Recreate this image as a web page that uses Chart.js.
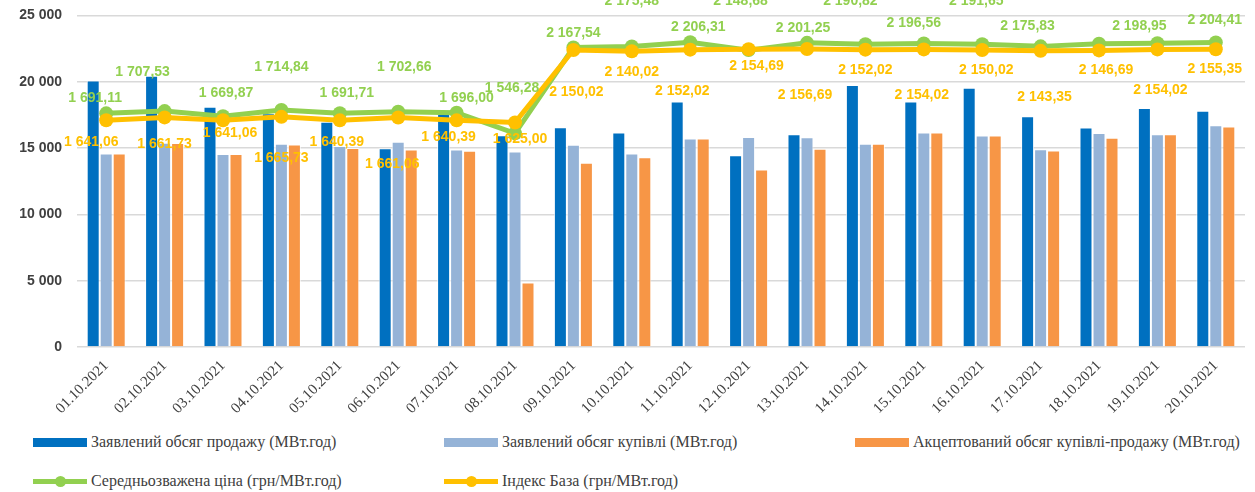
<!DOCTYPE html>
<html lang="uk">
<head>
<meta charset="utf-8">
<title>Обсяги та ціни</title>
<script src="https://cdn.jsdelivr.net/npm/chart.js@4"></script>
<style>
  html, body { margin: 0; padding: 0; background: #fff; overflow: hidden; }
  #wrap { position: relative; width: 1255px; height: 492px; overflow: hidden; }
  #box { position: absolute; left: 0; top: -8px; width: 1255px; height: 433px; }
  .leg { position: absolute; font-family: "Liberation Serif", "Tinos", "DejaVu Serif", serif; font-size: 16px; color: #404040; white-space: nowrap; display: flex; align-items: center; height: 20px; }
  .sw { display: inline-block; width: 54px; height: 9px; margin-right: 4px; position: relative; }
  .sw.line { height: 5px; }
  .sw.line i { position: absolute; left: 22px; top: -3px; width: 11px; height: 11px; border-radius: 50%; }
</style>
</head>
<body>
<div id="wrap">
  <div id="box"><canvas id="chart"></canvas></div>
  <div id="legend"></div>
</div>
<script>
// ===============================
// Дані
// ===============================
const dates = ["01.10.2021", "02.10.2021", "03.10.2021", "04.10.2021", "05.10.2021",
  "06.10.2021", "07.10.2021", "08.10.2021", "09.10.2021", "10.10.2021",
  "11.10.2021", "12.10.2021", "13.10.2021", "14.10.2021", "15.10.2021",
  "16.10.2021", "17.10.2021", "18.10.2021", "19.10.2021", "20.10.2021"];

const saleVolume = [20100, 20450, 18120, 17620, 16990, 14990, 17570, 15960, 16570, 16170,
  18500, 14460, 16040, 19750, 18500, 19550, 17390, 16540, 18020, 17820];
const buyVolume = [14590, 15390, 14560, 15320, 15160, 15470, 14890, 14740, 15240, 14590,
  15710, 15840, 15810, 15320, 16170, 15940, 14910, 16140, 16040, 16720];
const acceptedVolume = [14590, 15380, 14560, 15260, 15010, 14890, 14790, 4860, 13890, 14310,
  15710, 13380, 14940, 15320, 16170, 15940, 14810, 15770, 16040, 16620];
const avgPrice = [1691.11, 1707.53, 1669.87, 1714.84, 1691.71, 1702.66, 1696.00, 1546.28, 2167.54, 2175.48,
  2206.31, 2148.68, 2201.25, 2190.82, 2196.56, 2191.65, 2175.83, 2195.00, 2198.95, 2204.41];
const baseIndex = [1641.06, 1661.73, 1641.06, 1665.73, 1640.39, 1661.06, 1640.39, 1625.00, 2150.02, 2140.02,
  2152.02, 2154.69, 2156.69, 2152.02, 2154.02, 2150.02, 2143.35, 2146.69, 2154.02, 2155.35];

const volumeTicks = [0, 5000, 10000, 15000, 20000, 25000];

// зсуви підписів відносно точки (px) — як у вихідній діаграмі
const avgLabelShift = [[-11, -15], [-22, -39], [3, -23], [0, -43], [7, -20], [6, -45], [10, -15], [-3, -45],
  [0, -14], [0, -45], [8, -15], [-8, -49], [-4, -15], [-15, -43], [-10, -20], [-6, -43], [-13, -20],
  [0, -60], [-18, -17], [-1, -22]];
const baseLabelShift = [[-15, 22], [0, 27], [7, 13], [0, 41], [-3, 22], [-6, 47], [-8, 17], [5, 17],
  [3, 42], [0, 21], [-8, 41], [8, 17], [-2, 46], [0, 20], [-2, 46], [4, 20], [4, 46], [7, 20], [3, 41], [-1, 20]];

const COLORS = {
  sale: "#0070C0",
  buy: "#95B3D7",
  accepted: "#F79646",
  avg: "#92D050",
  base: "#FFC000"
};

// формат "1 691,11"
function fmtPrice(v) {
  const parts = v.toFixed(2).split(".");
  return parts[0].replace(/\B(?=(\d{3})+(?!\d))/g, " ") + "," + parts[1];
}
function fmtInt(v) {
  return String(v).replace(/\B(?=(\d{3})+(?!\d))/g, " ");
}

// ===============================
// Плагін підписів для ліній
// ===============================
const lineLabels = {
  id: "lineLabels",
  afterDatasetsDraw(chart) {
    const ctx = chart.ctx;
    ctx.save();
    ctx.font = "bold 14px 'Liberation Sans', Arial, sans-serif";
    ctx.textAlign = "center";
    ctx.textBaseline = "middle";
    chart.data.datasets.forEach((ds, di) => {
      if (!ds.labelShift) return;
      const meta = chart.getDatasetMeta(di);
      ctx.fillStyle = ds.borderColor;
      meta.data.forEach((pt, i) => {
        const s = ds.labelShift[i];
        ctx.fillText(fmtPrice(ds.data[i]), pt.x + s[0], pt.y + s[1]);
      });
    });
    ctx.restore();
  }
};

const barStyle = {
  yAxisID: "y",
  borderColor: "rgba(255,255,255,0.7)",
  borderWidth: 1,
  borderSkipped: "bottom",
  categoryPercentage: 0.668,
  barPercentage: 1.0,
  order: 2
};

const chart = new Chart(document.getElementById("chart"), {
  type: "bar",
  data: {
    labels: dates,
    datasets: [
      Object.assign({ label: "Заявлений обсяг продажу (МВт.год)", data: saleVolume, backgroundColor: COLORS.sale }, barStyle),
      Object.assign({ label: "Заявлений обсяг купівлі (МВт.год)", data: buyVolume, backgroundColor: COLORS.buy }, barStyle),
      Object.assign({ label: "Акцептований обсяг купівлі-продажу (МВт.год)", data: acceptedVolume, backgroundColor: COLORS.accepted }, barStyle),
      {
        type: "line",
        label: "Середньозважена ціна (грн/МВт.год)",
        data: avgPrice,
        yAxisID: "y1",
        borderColor: COLORS.avg,
        backgroundColor: COLORS.avg,
        borderWidth: 5,
        pointRadius: 7,
        pointBorderWidth: 0,
        tension: 0,
        order: 1,
        labelShift: avgLabelShift
      },
      {
        type: "line",
        label: "Індекс База (грн/МВт.год)",
        data: baseIndex,
        yAxisID: "y1",
        borderColor: COLORS.base,
        backgroundColor: COLORS.base,
        borderWidth: 5,
        pointRadius: 7,
        pointBorderWidth: 0,
        tension: 0,
        order: 0,
        labelShift: baseLabelShift
      }
    ]
  },
  options: {
    responsive: true,
    maintainAspectRatio: false,
    animation: false,
    layout: { padding: { top: 6, right: 10, left: 0, bottom: 0 } },
    plugins: {
      legend: { display: false },
      tooltip: { enabled: false }
    },
    scales: {
      x: {
        grid: { display: false, drawTicks: false },
        border: { display: false },
        ticks: {
          maxRotation: 45,
          minRotation: 45,
          autoSkip: false,
          padding: 10,
          color: "#404040",
          font: { family: "'Liberation Serif', 'Tinos', 'DejaVu Serif', serif", size: 15 }
        },
        afterFit(scale) { scale.height = 78; }
      },
      y: {
        min: 0,
        max: 25000,
        afterBuildTicks(scale) { scale.ticks = volumeTicks.map(v => ({ value: v })); },
        grid: { color: "#D9D9D9", lineWidth: 1.5, drawTicks: false },
        border: { display: false },
        ticks: {
          padding: 15,
          color: "#404040",
          font: { family: "'Liberation Sans', Arial, sans-serif", size: 14, weight: "bold" },
          callback: (v) => fmtInt(v)
        },
        afterFit(scale) { scale.width = 77; }
      },
      y1: {
        display: false,
        min: 0,
        max: 2400
      }
    }
  },
  plugins: [lineLabels]
});

// ===============================
// Легенда (HTML)
// ===============================
const legendSlots = [
  { ds: 0, left: 33, top: 432 },
  { ds: 1, left: 444, top: 432 },
  { ds: 2, left: 855, top: 432 },
  { ds: 3, left: 33, top: 471 },
  { ds: 4, left: 444, top: 471 }
];
const legendEl = document.getElementById("legend");
legendSlots.forEach((slot) => {
  const ds = chart.data.datasets[slot.ds];
  const item = document.createElement("div");
  item.className = "leg";
  item.style.left = slot.left + "px";
  item.style.top = slot.top + "px";
  const isLine = ds.type === "line";
  const color = isLine ? ds.borderColor : ds.backgroundColor;
  item.innerHTML = isLine
    ? `<span class="sw line" style="background:${color}"><i style="background:${color}"></i></span><span>${ds.label}</span>`
    : `<span class="sw" style="background:${color}"></span><span>${ds.label}</span>`;
  legendEl.appendChild(item);
});
</script>
</body>
</html>
